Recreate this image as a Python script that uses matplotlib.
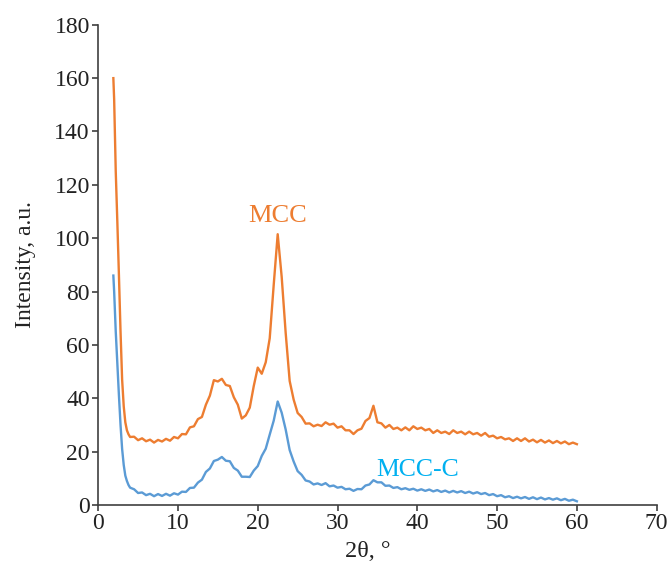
import numpy as np
import matplotlib
matplotlib.use('Agg')
import matplotlib.pyplot as plt

plt.rcParams['font.family'] = ['Liberation Serif', 'DejaVu Serif']

# sampling grid: dense points on the initial drop, then 0.5 deg steps
x_start = [1.9, 2.0, 2.2, 2.4, 2.6, 2.8, 3.0, 3.2, 3.4, 3.6, 3.8, 4.0]
x_rest = list(np.arange(4.5, 60.01, 0.5))
two_theta = np.array(x_start + x_rest)

mcc = [
    160, 152, 125, 106, 86, 65, 47, 37, 31, 28, 26.5, 25.5,
    25.6, 24.3, 25.0, 23.9, 24.5, 23.4, 24.4, 23.8, 24.8, 24.1,
    25.5, 25.0, 26.6, 26.5, 29.1, 29.5, 32.2, 33.0, 37.6, 41.0,
    46.8, 46.3, 47.3, 45.0, 44.6, 40.4, 37.6, 32.4, 33.6, 36.5,
    44.6, 51.5, 49.2, 53.5, 62.5, 82.5, 101.5, 85.5, 64.5, 46.5,
    39.5, 34.5, 33.0, 30.5, 30.6, 29.5, 30.1, 29.6, 31.0, 30.1,
    30.5, 29.0, 29.5, 28.0, 28.0, 26.6, 28.0, 28.6, 31.5, 32.6,
    37.2, 31.0, 30.6, 29.0, 30.0, 28.5, 29.0, 28.0, 29.1, 28.0,
    29.5, 28.5, 29.0, 28.0, 28.5, 27.0, 28.0, 27.0, 27.5, 26.6,
    28.0, 27.0, 27.5, 26.5, 27.5, 26.5, 27.0, 26.0, 27.0, 25.6,
    26.0, 25.0, 25.5, 24.6, 25.0, 24.0, 25.0, 24.0, 25.0, 23.8,
    24.5, 23.5, 24.4, 23.4, 24.2, 23.2, 24.0, 23.1, 23.8, 22.8,
    23.4, 22.8,
]

mcc_c = [
    86, 80, 65, 53, 41, 30, 21, 15, 11, 9, 7.5, 6.5,
    5.9, 4.5, 4.7, 3.7, 4.2, 3.3, 4.1, 3.4, 4.2, 3.5,
    4.4, 3.9, 5.0, 4.9, 6.4, 6.5, 8.4, 9.5, 12.4, 13.7,
    16.5, 17.0, 18.0, 16.6, 16.4, 13.9, 12.9, 10.6, 10.6, 10.5,
    12.9, 14.6, 18.4, 21.1, 26.4, 31.6, 38.8, 34.6, 28.3, 20.6,
    16.3, 12.7, 11.3, 9.2, 8.8, 7.7, 8.1, 7.5, 8.2, 7.0,
    7.3, 6.5, 6.8, 5.9, 6.1, 5.3, 6.0, 5.9, 7.3, 7.7,
    9.3, 8.5, 8.5, 7.2, 7.3, 6.4, 6.7, 5.9, 6.3, 5.7,
    6.1, 5.4, 5.9, 5.3, 5.8, 5.1, 5.6, 4.9, 5.4, 4.7,
    5.3, 4.7, 5.2, 4.5, 5.0, 4.3, 4.8, 4.1, 4.5, 3.7,
    4.1, 3.3, 3.7, 2.9, 3.3, 2.6, 3.1, 2.5, 3.0, 2.3,
    2.9, 2.2, 2.8, 2.1, 2.6, 2.0, 2.5, 1.8, 2.3, 1.6,
    2.0, 1.4,
]

orange = '#ed7d31'
blue = '#5b9bd5'

fig = plt.figure(figsize=(6.68, 5.63), dpi=100)
ax = fig.add_axes([0.147, 0.103, 0.836, 0.853])

ax.plot(two_theta, mcc, color=orange, linewidth=1.7)
ax.plot(two_theta, mcc_c, color=blue, linewidth=1.7)

ax.text(22.5, 108.5, 'MCC', color=orange, fontsize=19, ha='center', va='center')
ax.text(40.1, 13, 'MCC-C', color='#00b0f0', fontsize=18.5, ha='center', va='center')

ax.set_xlim(0, 70)
ax.set_ylim(0, 180)
ax.set_xticks(range(0, 71, 10))
ax.set_yticks(range(0, 181, 20))

for side in ['top', 'right']:
    ax.spines[side].set_visible(False)
for side in ['left', 'bottom']:
    ax.spines[side].set_color('#404040')
    ax.spines[side].set_linewidth(1.2)
ax.tick_params(direction='out', length=4, width=1.2, color='#404040',
               labelsize=17, labelcolor='#222222', pad=2)

ax.set_xlabel('2θ, °', fontsize=17.5, color='#222222', labelpad=8)
ax.xaxis.set_label_coords(0.483, -0.075)
ax.set_ylabel('Intensity, a.u.', fontsize=17, color='#222222', labelpad=13)

fig.savefig('out.png', dpi=100)
